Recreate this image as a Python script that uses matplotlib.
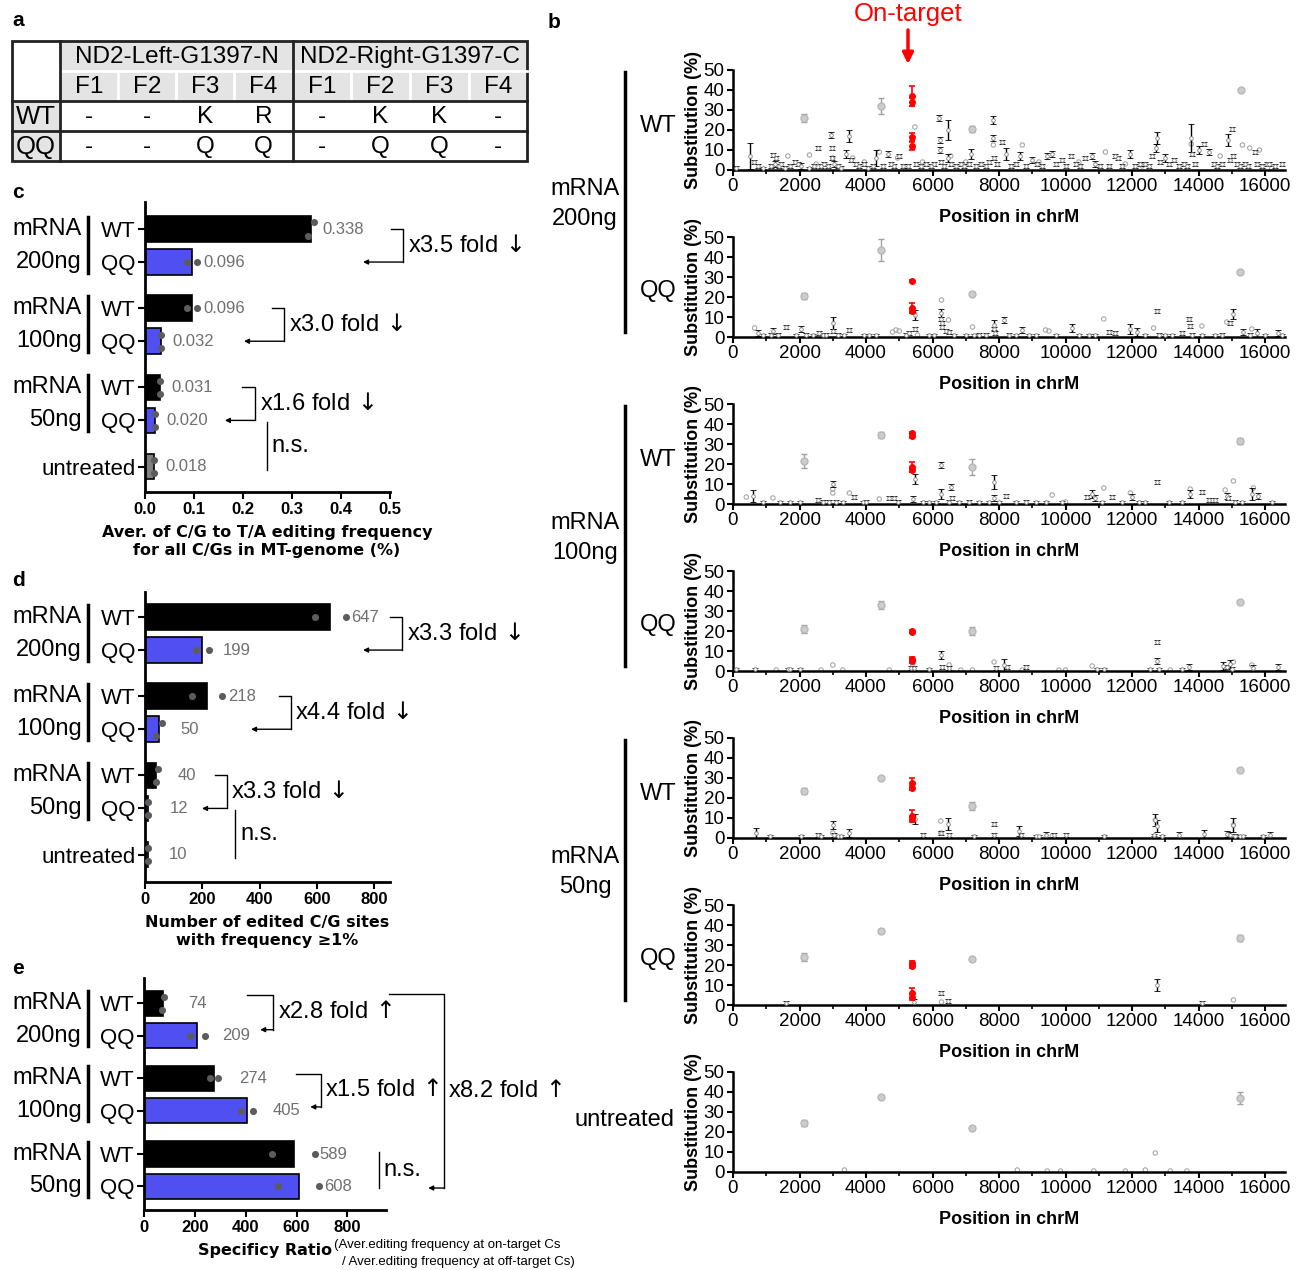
import matplotlib
matplotlib.use('Agg')
import matplotlib.pyplot as plt
from matplotlib.transforms import blended_transform_factory
from matplotlib.ticker import FormatStrFormatter, MultipleLocator

plt.rcParams['font.family'] = ['Liberation Sans', 'DejaVu Sans']

# ---------------- data ----------------
# a : TALE finger table
tbl_groups = ['ND2-Left-G1397-N', 'ND2-Right-G1397-C']
tbl_fingers = ['F1', 'F2', 'F3', 'F4', 'F1', 'F2', 'F3', 'F4']
tbl_rows = ['WT', 'QQ']
tbl_wt = ['-', '-', 'K', 'R', '-', 'K', 'K', '-']
tbl_qq = ['-', '-', 'Q', 'Q', '-', 'Q', 'Q', '-']

doses = ['200ng', '100ng', '50ng']

# c : average C/G to T/A editing frequency (%)
c_labels = ['WT', 'QQ', 'WT', 'QQ', 'WT', 'QQ', 'untreated']
c_vals = [0.338, 0.096, 0.096, 0.032, 0.031, 0.020, 0.018]
c_dots = [(0.345, 0.333), (0.086, 0.106), (0.086, 0.106), (0.032, 0.032),
          (0.031, 0.031), (0.020, 0.020), (0.019, 0.019)]
c_folds = ['x3.5 fold$\\,\\downarrow$', 'x3.0 fold$\\,\\downarrow$', 'x1.6 fold$\\,\\downarrow$']

# d : number of edited C/G sites
d_labels = ['WT', 'QQ', 'WT', 'QQ', 'WT', 'QQ', 'untreated']
d_vals = [647, 199, 218, 50, 40, 12, 10]
d_dots = [(593, 700), (177, 222), (165, 270), (60, 40), (45, 38), (12, 12), (10, 10)]
d_folds = ['x3.3 fold$\\,\\downarrow$', 'x4.4 fold$\\,\\downarrow$', 'x3.3 fold$\\,\\downarrow$']

# e : specificity ratio
e_labels = ['WT', 'QQ', 'WT', 'QQ', 'WT', 'QQ']
e_vals = [74, 209, 274, 405, 589, 608]
e_dots = [(78, 70), (180, 238), (258, 292), (383, 428), (502, 672), (528, 690)]
e_folds = ['x2.8 fold$\\,\\uparrow$', 'x1.5 fold$\\,\\uparrow$', 'x8.2 fold$\\,\\uparrow$']

# b : substitution (%) along chrM, (position, mean, error)
wt200_black = [(100,1,1),(500,7,6.5),(620,4,1),(750,2,1),(900,1,0.5),(1150,2,1),(1200,7.5,1),(1250,3,1.5),
               (1300,6,1),(1380,2,1),(1450,3,1),(1550,1,1),(1700,2,1),(1850,4,1),(1950,3,1),(2050,2,1.5),
               (2300,1,0.5),(2450,2,1),(2550,11,1),(2650,2,1),(2750,3,1),(2850,2,1),(2950,17.5,1.5),
               (2970,11,1),(2990,6,1),(3050,3,1.5),(3150,2,1),(3250,1,1),(3400,8,2),(3480,17,3),(3550,5,1),
               (3700,3,1),(3800,2,1),(3950,3,1),(4050,1,1),(4200,2,1),(4300,6,4),(4500,2,1),(4650,8,1.5),
               (4750,3,1),(4850,2,1),(5000,7,1),(5100,2,1),(5250,2,1),(5500,3,1),(5650,2,1),(5800,3,1),
               (5950,2,1),(6050,3,1),(6200,26,1.5),(6220,15,1.5),(6230,10,1.5),(6250,4,1),(6350,2,1),
               (6470,20,5),(6480,6,2),(6550,3,1),(6700,2,1),(6850,3,1),(6950,2,1),(7100,3,1),(7150,8,2.5),
               (7300,2,1),(7450,3,1),(7600,2,1),(7700,4,1),(7820,25,2),(7830,16,1.5),(7850,6,1),(7950,3,1),
               (8100,14,1),(8200,8,3),(8350,2,1),(8500,3,1),(8630,7,2),(8800,2,1),(9000,5,1.5),(9150,3,1),
               (9300,2,1),(9440,7,1.5),(9580,8,1.5),(9700,3,1),(9880,5,1),(10000,2,1),(10170,7,1),(10300,3,1),
               (10450,2,1),(10600,6,1),(10800,7,1.5),(10900,3,1.5),(11050,2,1),(11300,2,1),(11500,7,1),
               (11570,6,1),(11700,2,1),(11940,8,2),(12100,2,1),(12250,3,1),(12380,3,1),(12500,2,1),(12600,7,1),
               (12750,16,3),(12720,11,2),(12850,4,1),(13000,6,2),(13100,3,1),(13260,5,1),(13400,2,1),
               (13550,3,1),(13650,2,1),(13780,16,7),(13800,8,1),(13900,3,1),(14000,10,2),(14150,13,1),
               (14300,9,1.5),(14450,3,1),(14550,2,1),(14700,3,1),(14880,15,3),(14950,5,1),(15000,20.5,1),
               (15030,7,1),(15150,3,1),(15250,2,1),(15400,3,1),(15500,2,1),(15700,9,1),(15750,3,1),(15900,2,1),
               (16050,3,1),(16130,3,1),(16300,2,1),(16500,3,1)]
wt200_faint = [(1650,7),(2300,7.5),(2500,3),(3000,6),(3600,6),(3950,4),(4400,9),(4950,6),(5470,21.5),(5700,4),
               (6550,7),(7000,4),(7830,12.5),(8700,12.5),(9200,4),(10400,4),(11200,9),(11800,3),(12300,2),
               (13780,13),(14650,7),(15320,12.5),(15540,11),(15830,10),(16200,1)]
wt200_grey = [(2150,26,2),(4450,32,4),(7200,20.5,1.5),(15270,40,0.5)]
wt200_red = [(5380,37,5),(5380,34,2),(5380,16.5,2),(5380,12,2)]

qq200_black = [(750,2,1.5),(900,1,0.5),(1150,1,1),(1200,3,1.5),(1350,1,1),(1600,5,1),(1900,1,0.5),(2050,4,1.5),
               (2200,1,1),(2400,1,0.5),(2600,2,1),(2700,1,1),(2800,1,1),(3000,7,3),(3020,3,1),(3150,1,1),
               (3350,1,0.5),(3500,3.5,1),(3950,1,0.5),(4100,1,0.5),(4300,1,0.5),(5200,1,1),(5300,2,1),
               (5470,11,2.5),(5470,4,1),(5900,1,0.5),(6050,1,0.5),(6270,12,2),(6270,9,1),(6280,7,1),(6290,5,1),
               (6400,3,1),(6500,2.5,1),(6650,1,0.5),(7000,1,0.5),(7250,1,0.5),(7400,1,1),(7600,1,1),(7850,6,2.5),
               (7850,4,1),(7870,2,1),(8150,8.5,1.5),(8300,1,1),(8500,1,0.5),(8700,3.5,1.5),(8900,1,0.5),
               (9100,1,0.5),(9700,1,0.5),(10200,4.5,2),(10400,1,0.5),(10700,1,0.5),(10900,1,0.5),(11300,2.5,1),
               (11500,2,1),(11950,4,2.5),(12150,2.5,2),(12400,1,0.5),(12750,13,1),(12800,1,1),(13000,1,0.5),
               (13200,1,0.5),(13500,2,1),(13700,9,1),(13750,5.5,1),(13800,1,1),(14100,1,0.5),(14500,1,0.5),
               (14700,1,1),(14950,7,1),(15050,11.5,2.5),(15350,2.5,1.5),(15550,1,1),(15750,2,2),(16000,1,0.5),
               (16400,2,1.5),(16500,1,0.5)]
qq200_faint = [(650,4.5),(4800,2.5),(4900,3.5),(5000,3),(5550,1),(6270,18.5),(6480,8.5),(7200,5),(9400,3.5),
               (9500,3),(11150,9),(12650,4.5),(14100,5.5),(14850,7.5),(15600,4)]
qq200_grey = [(2150,20.5,1.5),(4450,43.5,5.5),(7200,21.5,0.5),(15250,32.5,0.5)]
qq200_red = [(5380,28,0.5),(5380,14.5,2.5),(5380,13,1)]

wt100_black = [(600,4,3),(900,1,0.5),(1400,1,0.5),(1700,1,0.5),(2000,1,0.5),(2550,2,1),(2700,1,1),(2900,1,1),
               (3000,10,1.5),(3100,1,1),(3300,1,0.5),(3650,3.5,1),(3900,1,0.5),(4000,1,1),(4700,3,1),(4850,3,1),
               (4950,1,1),(5400,2.5,1.5),(5470,12.5,2.5),(5700,1,0.5),(5900,1,0.5),(6100,1,0.5),(6250,19.5,1.5),
               (6270,5,2.5),(6500,1,1),(6550,8.5,1.5),(6600,3,1),(6800,1,0.5),(7100,1,1),(7400,1,0.5),
               (7700,1,0.5),(7850,11,3.5),(7850,3,1.5),(8000,1,0.5),(8200,4,1),(8500,1,0.5),(8800,1,1),
               (9100,1,0.5),(9400,1,0.5),(9900,1,0.5),(10650,3.5,1),(10800,5,2),(10900,3,1.5),(11100,1,0.5),
               (11400,3.5,1),(11700,1,0.5),(12000,3.5,1.5),(12200,1,0.5),(12400,1,0.5),(12750,11,1),(13100,1,0.5),
               (13500,1,0.5),(13750,5,2),(14100,6,1),(14300,2,1),(14500,2,1),(14850,4,1.5),(14900,3,1),
               (15100,1,1),(15300,1,0.5),(15600,5,3),(15800,4,1.5),(16200,1,0.5)]
wt100_faint = [(400,3.5),(1200,3),(3000,5.5),(3000,7.5),(3500,5.5),(4400,2.5),(9600,4.5),(10000,1),(11150,8),
               (11950,5.5),(13750,7.5),(14800,7),(15050,11.5),(15650,8)]
wt100_grey = [(2150,21.5,3.5),(4450,34.5,1.5),(7200,18.5,4),(15250,31.5,1.5)]
wt100_red = [(5380,35.5,0.5),(5380,34,0.8),(5380,18.5,2.5),(5380,17,1)]

qq100_black = [(100,1,0.5),(650,1,0.5),(1650,1,0.5),(1700,1,0.5),(2000,1,0.5),(5350,1.5,1),(5450,1.5,1),
               (5900,1,0.5),(6250,8,2),(6300,2,1),(6500,1.5,1),(7900,1.5,1),(8150,3,3),(8250,2,1),(8800,2,1),
               (10950,1,0.5),(11150,1,0.5),(12550,1,0.5),(12750,14.5,1),(12750,5,1.5),(12800,1,0.5),
               (13500,1,0.5),(13700,2,1.5),(14750,2.5,2),(14850,2,1),(14950,3.5,2),(15000,1,1),(15650,1.5,1.5),
               (16400,2,1.5)]
qq100_faint = [(1300,0.5),(2650,0.5),(3000,3),(3300,0.5),(4700,0.5),(5400,3.5),(6500,3),(6850,0.5),(7200,0.5),
               (7850,4.5),(8700,0.5),(9800,0.5),(10000,0.5),(10800,2.5),(13150,0.5),(15050,4.5),(15600,3)]
qq100_grey = [(2150,21,2),(4450,33,2),(7200,20,2),(15250,34.5,0.5)]
qq100_red = [(5380,20,0.5),(5380,19.5,0.5),(5380,6,1),(5380,5,1)]

wt50_black = [(700,2.5,2.5),(1100,1,0.5),(2050,1,0.5),(2550,1.5,1),(2650,1,0.5),(3000,6.5,2),(3050,1.5,1),
              (3150,1,0.5),(3250,1,0.5),(3500,2.5,2),(5470,9.5,2.5),(5700,1.5,1),(6250,2.5,1),(6480,7,3),
              (6500,1.5,1),(7250,1,0.5),(7850,7,1),(7850,1.5,1),(8600,3.5,2.5),(8650,1.5,1),(9100,1,0.5),
              (9200,1,0.5),(9400,1.5,1.5),(9650,1.5,1),(10000,1.5,1),(11150,1,0.5),(12650,1.5,0.5),(12700,9,3),
              (12750,6,3),(12900,1,0.5),(13400,1.5,1.5),(14150,2,2),(14850,2,1.5),(14950,1.5,1.5),(15050,6.5,3.5),
              (15100,1,1),(15250,1,0.5),(15350,1,0.5),(15950,1,0.5),(16150,1.5,1.5)]
wt50_faint = [(6250,8.5),(6250,2.5),(15050,6.5),(12700,9),(3000,2.5),(9600,1)]
wt50_grey = [(2150,23.5,1.5),(4450,30,0.5),(7200,16,2),(15250,34,0.5)]
wt50_red = [(5380,27.5,2.5),(5380,25,1),(5380,11,3),(5380,9.5,1)]

qq50_black = [(1600,1,1),(5450,1.5,1.5),(6270,6,1),(6480,2,1),(12750,10,3),(14100,1,1)]
qq50_faint = [(6270,1.5),(15050,2.5)]
qq50_grey = [(2150,24,2),(4450,37,1),(7200,23,0.5),(15250,33.5,1.5)]
qq50_red = [(5380,21,0.8),(5380,19.5,0.8),(5380,6,2.5),(5380,4,1.5)]

un_black = []
un_faint = [(3350,1),(8550,1),(9450,0.5),(9850,0.5),(10850,0.5),(11800,0.5),(12400,1),(12700,9.5),
            (13150,0.5),(13650,0.5)]
un_grey = [(2150,24.5,1.5),(4450,37.5,0.5),(7200,22,0.5),(15250,37,3)]
un_red = []

# ---------------- figure ----------------
W, H = 1300, 1270
fig = plt.figure(figsize=(W / 100, H / 100), dpi=100)

def add_ax(x0, y0, x1, y1):
    return fig.add_axes([x0 / W, 1 - y1 / H, (x1 - x0) / W, (y1 - y0) / H])

ov = fig.add_axes([0, 0, 1, 1])
ov.set_xlim(0, W)
ov.set_ylim(H, 0)
ov.axis('off')

bold_lab = dict(family=['DejaVu Sans'], fontweight='bold', fontsize=11.5)

# panel letters
for ch, x, y in [('a', 12, 20), ('b', 548, 22), ('c', 12, 192), ('d', 12, 580), ('e', 12, 968)]:
    ov.text(x, y, ch, fontsize=15, fontweight='bold', va='center', ha='left')

# ---- a : table ----
col_x = [12, 60, 118, 176, 234, 293, 351, 410, 469, 527]
ov.add_patch(plt.Rectangle((60, 41), 467, 60, color='#e4e4e4', lw=0))
ov.add_patch(plt.Rectangle((12, 101), 48, 60, color='#e4e4e4', lw=0))
ov.plot([60, 527], [71, 71], color='white', lw=2)
for x in col_x[2:5] + col_x[6:9]:
    ov.plot([x, x], [71, 101], color='white', lw=2)
ov.add_patch(plt.Rectangle((12, 41), 515, 120, fill=False, ec='#222', lw=2))
for x in [60, 293]:
    ov.plot([x, x], [41, 161], color='#222', lw=2)
for y in [101, 131]:
    ov.plot([12, 527], [y, y], color='#222', lw=2)
tfs = 17.5
for g, name in enumerate(tbl_groups):
    ov.text((col_x[1 + 4 * g] + col_x[5 + 4 * g]) / 2, 57, name, ha='center', va='center', fontsize=tfs)
for k, f in enumerate(tbl_fingers):
    xc = (col_x[k + 1] + col_x[k + 2]) / 2
    ov.text(xc, 87, f, ha='center', va='center', fontsize=tfs)
    ov.text(xc, 117, tbl_wt[k], ha='center', va='center', fontsize=tfs)
    ov.text(xc, 147, tbl_qq[k], ha='center', va='center', fontsize=tfs)
for r, lab in enumerate(tbl_rows):
    ov.text(36, 117 + 30 * r, lab, ha='center', va='center', fontsize=tfs + 1)

# ---- c, d, e : bar panels ----
bar_col = {'WT': 'black', 'QQ': '#5050f2', 'untreated': '#808080'}
pos7 = [0, 1, 2.4, 3.4, 4.8, 5.8, 7.2]
pos6 = [0, 1, 2.33, 3.33, 4.67, 5.67]


def bar_panel(ax, pos, labels, vals, dots, xmax, xticks, fmt, tickfmt, txt_off, ylim):
    cols = [bar_col[l] for l in labels]
    ax.barh(pos, vals, height=0.78, color=cols, edgecolor='black', linewidth=1.2, zorder=2)
    for p, v, dd in zip(pos, vals, dots):
        ys = [p - 0.2, p + 0.2] if abs(dd[0] - dd[1]) < 0.03 * xmax else [p, p]
        ax.scatter(dd, ys, s=26, color='#5c5c5c', zorder=3, clip_on=False, linewidths=0)
        ax.text(v + txt_off, p, fmt.format(v), color='#707070', fontsize=12, va='center')
    ax.set_xlim(0, xmax)
    ax.set_ylim(*ylim)
    ax.set_xticks(xticks)
    ax.xaxis.set_major_formatter(FormatStrFormatter(tickfmt))
    ax.set_yticks(pos)
    ax.set_yticklabels(labels, fontsize=16)
    for t in ax.get_xticklabels():
        t.set_fontweight('bold')
        t.set_fontsize(12)
    for s in ['top', 'right']:
        ax.spines[s].set_visible(False)
    for s in ['left', 'bottom']:
        ax.spines[s].set_linewidth(2)
    ax.tick_params(axis='both', length=5, width=1.5, pad=2)
    # group labels
    tr = blended_transform_factory(fig.transFigure, ax.transData)
    for j, dose in enumerate(doses):
        pw, pq = pos[2 * j], pos[2 * j + 1]
        ax.text(82 / W, pw, 'mRNA', transform=tr, ha='right', va='center', fontsize=17)
        ax.text(82 / W, pq, dose, transform=tr, ha='right', va='center', fontsize=17)
        ax.plot([88 / W, 88 / W], [pw - 0.38, pq + 0.32], transform=tr, color='k', lw=2.5,
                clip_on=False)


def fold_bracket(ax, x0, x1, xtip, ytop, ybot, txt, xt):
    ax.plot([x0, x1, x1], [ytop, ytop, ybot], color='k', lw=1, clip_on=False)
    ax.annotate('', xy=(xtip, ybot), xytext=(x1, ybot), annotation_clip=False,
                arrowprops=dict(arrowstyle='-|>', color='k', lw=1, mutation_scale=7,
                                shrinkA=0, shrinkB=0))
    ax.text(xt, (ytop + ybot) / 2, txt, fontsize=17, va='center', ha='left')


def ns_mark(ax, x, y0, y1, xt):
    ax.plot([x, x], [y0, y1], color='k', lw=1, clip_on=False)
    ax.text(xt, (y0 + y1) / 2, 'n.s.', fontsize=17, va='center', ha='left')


# c
axc = add_ax(145, 202, 390, 492)
bar_panel(axc, pos7, c_labels, c_vals, c_dots, 0.5, [0, 0.1, 0.2, 0.3, 0.4, 0.5],
          '{:.3f}', '%.1f', 0.023, (7.97, -0.82))
fold_bracket(axc, 0.502, 0.527, 0.445, pos7[0], pos7[1], c_folds[0], 0.537)
fold_bracket(axc, 0.259, 0.284, 0.202, pos7[2], pos7[3], c_folds[1], 0.294)
fold_bracket(axc, 0.198, 0.224, 0.163, pos7[4], pos7[5], c_folds[2], 0.234)
ns_mark(axc, 0.248, 5.85, 7.3, 0.258)
ov.text(267, 542, 'Aver. of C/G to T/A editing frequency\nfor all C/Gs in MT-genome (%)',
        ha='center', va='center', linespacing=1.25, **bold_lab)

# d
axd = add_ax(145, 592, 390, 882)
bar_panel(axd, pos7, d_labels, d_vals, d_dots, 855, [0, 200, 400, 600, 800],
          '{:d}', '%d', 73, (8.03, -0.76))
fold_bracket(axd, 856, 898, 761, pos7[0], pos7[1], d_folds[0], 915)
fold_bracket(axd, 468, 510, 370, pos7[2], pos7[3], d_folds[1], 524)
fold_bracket(axd, 245, 286, 199, pos7[4], pos7[5], d_folds[2], 300)
ns_mark(axd, 314, 5.85, 7.3, 332)
ov.text(267, 931, 'Number of edited C/G sites\nwith frequency \u22651%',
        ha='center', va='center', linespacing=1.25, **bold_lab)

# e
axe = add_ax(144, 978, 386, 1210)
bar_panel(axe, pos6, e_labels, e_vals, e_dots, 952, [0, 200, 400, 600, 800],
          '{:d}', '%d', 100, (6.4, -0.78))
fold_bracket(axe, 405, 508, 457, pos6[0] - 0.25, pos6[1] - 0.18, e_folds[0], 528)
fold_bracket(axe, 598, 697, 654, pos6[2] - 0.15, pos6[3] - 0.12, e_folds[1], 714)
fold_bracket(axe, 965, 1181, 1118, pos6[0] - 0.29, pos6[5] + 0.05, e_folds[2], 1197)
ns_mark(axe, 925, 4.6, 5.72, 941)
ov.text(265, 1251, 'Specificy Ratio', ha='center', va='center', **bold_lab)
ov.text(334, 1245, '(Aver.editing frequency at on-target Cs', ha='left', va='center', fontsize=9.5)
ov.text(342, 1262, '/ Aver.editing frequency at off-target Cs)', ha='left', va='center', fontsize=9.5)

# ---- b : substitution along chrM ----
b_panels = [
    (wt200_black, wt200_faint, wt200_grey, wt200_red),
    (qq200_black, qq200_faint, qq200_grey, qq200_red),
    (wt100_black, wt100_faint, wt100_grey, wt100_red),
    (qq100_black, qq100_faint, qq100_grey, qq100_red),
    (wt50_black, wt50_faint, wt50_grey, wt50_red),
    (qq50_black, qq50_faint, qq50_grey, qq50_red),
    (un_black, un_faint, un_grey, un_red),
]


def chrm_panel(ax, black, faint, grey, red):
    if faint:
        fx, fy = zip(*faint)
        ax.scatter(fx, fy, s=10, facecolors='none', edgecolors='#a8a8a8', linewidths=0.8, zorder=2)
    if black:
        bx, by, be = zip(*black)
        ax.errorbar(bx, by, yerr=be, fmt='o', ms=2.6, mfc='white', mec='#808080', mew=0.6,
                    ecolor='black', elinewidth=1, capsize=2.2, capthick=1, zorder=4)
    if grey:
        gx, gy, ge = zip(*grey)
        ax.errorbar(gx, gy, yerr=ge, fmt='o', ms=5, mfc='#cccccc', mec='#b8b8b8',
                    ecolor='#a0a0a0', elinewidth=1, capsize=2.5, capthick=1, zorder=3)
    if red:
        rx, ry, re_ = zip(*red)
        ax.errorbar(rx, ry, yerr=re_, fmt='o', ms=4, color='red', ecolor='red',
                    elinewidth=1.2, capsize=2.2, capthick=1.2, zorder=5)
    ax.set_xlim(0, 16600)
    ax.set_ylim(0, 50)
    ax.set_xticks(range(0, 16001, 2000))
    ax.xaxis.set_minor_locator(MultipleLocator(1000))
    ax.set_yticks(range(0, 51, 10))
    for s in ['top', 'right']:
        ax.spines[s].set_visible(False)
    for s in ['left', 'bottom']:
        ax.spines[s].set_linewidth(1.8)
    ax.tick_params(axis='both', which='major', length=4, width=1.5, labelsize=13.5, pad=2)
    ax.tick_params(axis='x', which='minor', length=3, width=1.2)
    ax.set_xlabel('Position in chrM', fontsize=13, fontweight='bold', labelpad=10)
    ax.set_ylabel('Substitution (%)', fontsize=13, fontweight='bold', labelpad=1)


for i, (bk, fa, gy, rd) in enumerate(b_panels):
    top = 70 + 167 * i
    ax = add_ax(733, top, 1285, top + 100)
    chrm_panel(ax, bk, fa, gy, rd)

for j, dose in enumerate(doses):
    top = 70 + 334 * j
    ov.plot([625, 625], [top + 2, top + 262], color='k', lw=2.5)
    ov.text(585, top + 119, 'mRNA', ha='center', va='center', fontsize=17)
    ov.text(585, top + 149, dose, ha='center', va='center', fontsize=17)
    ov.text(658, top + 56, 'WT', ha='center', va='center', fontsize=17)
    ov.text(658, top + 221, 'QQ', ha='center', va='center', fontsize=17)
ov.text(625, 70 + 167 * 6 + 48, 'untreated', ha='center', va='center', fontsize=17)

ov.text(908, 14, 'On-target', color='red', ha='center', va='center', fontsize=18.5)
ov.annotate('', xy=(908, 64), xytext=(908, 30),
            arrowprops=dict(arrowstyle='-|>', color='red', lw=2.5, mutation_scale=16,
                            shrinkA=0, shrinkB=0))

fig.savefig('out.png', dpi=100)
